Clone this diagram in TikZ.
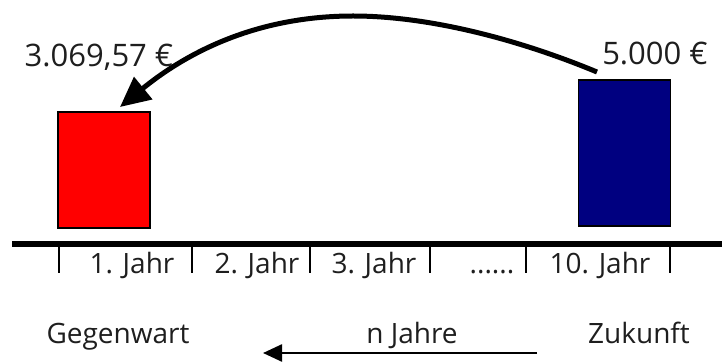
\documentclass[tikz,border=0pt]{standalone}
\usepackage{fontspec}
\setmainfont{Open Sans}
\usetikzlibrary{arrows.meta}
\definecolor{navyblue}{RGB}{0,0,128}
\definecolor{ink}{RGB}{30,30,30}
\begin{document}
\begin{tikzpicture}[x=1pt, y=-1pt,
    bar/.style={draw, line width=1.2pt, inner sep=0pt, minimum width=92pt},
    amount/.style={anchor=base, text=ink, font=\fontsize{31}{36}\selectfont},
    label/.style={anchor=base, text=ink, font=\fontsize{28}{32}\selectfont}]
    \useasboundingbox (0,0) rectangle (722,363);
    % the two amounts
    \node[bar, fill=red, minimum height=116pt] (today) at (104,170) {};
    \node[bar, fill=navyblue, minimum height=146pt] (future) at (624.5,153) {};
    \node[amount] (presval) at (99,67) {3.069,57 €};
    \node[amount] (futval) at (655,65) {5.000 €};
    \coordinate (from) at (597,72);
    \coordinate (peak) at (353,16);
    \coordinate (to) at (120,107);
    \draw[line width=5pt, -{Triangle[length=30pt, width=28pt]}] (from) .. controls (520,40) and (430,16) .. (peak)
      .. controls (260,16) and (190,50) .. (to);
    % time axis
    \draw[line width=5pt] (12,244) -- (722,244);
    \foreach \x in {59,192,310,430,526,670}
      \draw[line width=2.5pt] (\x,246) -- (\x,273);
    \node[label] (y1) at (132,273) {1. Jahr};
    \node[label] (y2) at (257,273) {2. Jahr};
    \node[label] (y3) at (374,273) {3. Jahr};
    \node[label] (ydots) at (492,273) {......};
    \node[label] (y10) at (600,273) {10. Jahr};
    % direction
    \node[label] (now) at (118,343) {Gegenwart};
    \node[label] (span) at (412,343) {n Jahre};
    \node[label] (later) at (639,343) {Zukunft};
    \coordinate (aend) at (537,353);
    \coordinate (atip) at (263,353);
    \draw[line width=2.5pt, -{Triangle[length=19pt, width=17pt]}] (aend) -- (atip);
\end{tikzpicture}
\end{document}
